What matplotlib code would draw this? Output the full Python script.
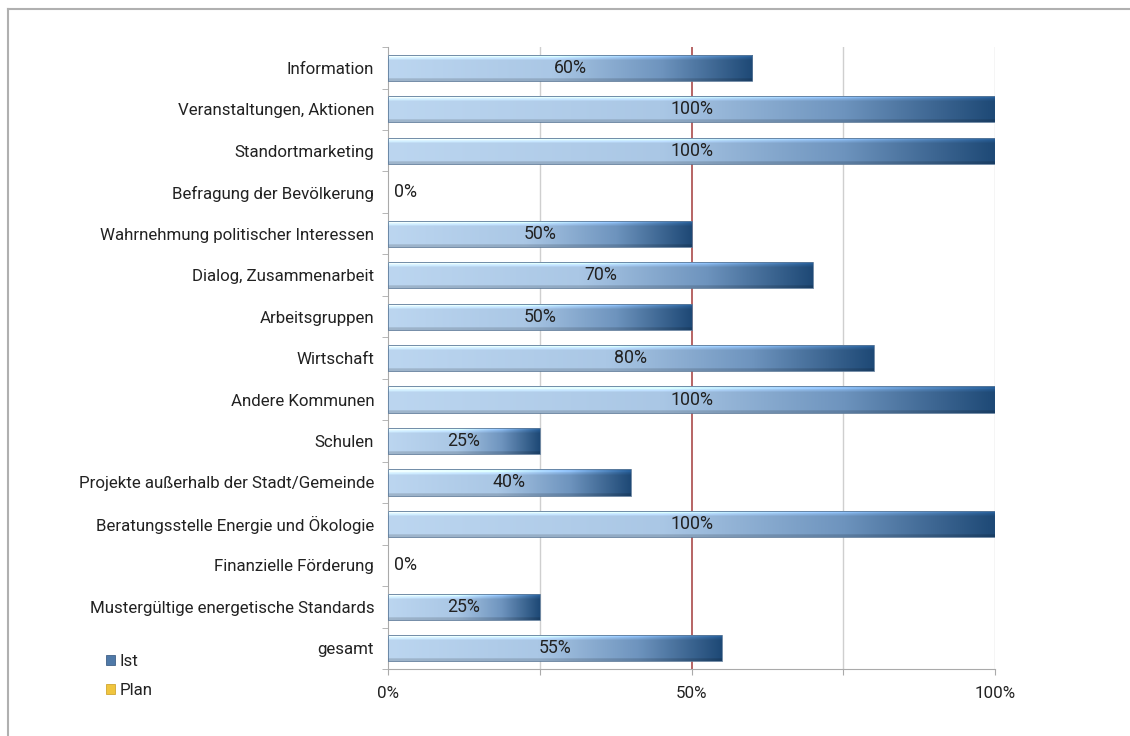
import matplotlib.pyplot as plt
import numpy as np
from matplotlib.colors import LinearSegmentedColormap
from matplotlib.patches import Rectangle, Patch
from matplotlib.lines import Line2D

plt.rcParams['font.family'] = ['Roboto', 'DejaVu Sans']

categories = ['Information', 'Veranstaltungen, Aktionen', 'Standortmarketing',
              'Befragung der Bevölkerung', 'Wahrnehmung politischer Interessen',
              'Dialog, Zusammenarbeit', 'Arbeitsgruppen', 'Wirtschaft',
              'Andere Kommunen', 'Schulen', 'Projekte außerhalb der Stadt/Gemeinde',
              'Beratungsstelle Energie und Ökologie', 'Finanzielle Förderung',
              'Mustergültige energetische Standards', 'gesamt']
ist = [60, 100, 100, 0, 50, 70, 50, 80, 100, 25, 40, 100, 0, 25, 55]
xticks = [0, 25, 50, 75, 100]
xticklabels = ['0%', '', '50%', '', '100%']

fig = plt.figure(figsize=(11.3, 7.36), dpi=100)
ax = fig.add_axes([0.3434, 0.091, 0.5371, 0.845])

# horizontal colour ramp of each bar, light on the left, navy at the end
ramp = LinearSegmentedColormap.from_list('ramp', [
    (0.0, '#bcd6f0'), (0.45, '#aac7e5'), (0.75, '#6e94be'), (1.0, '#1e4976')])

n = len(categories)
ypos = np.arange(n)
bar_h = 0.63
text_col = '#222222'
fs = 12.2

# vertical shading: bright rim at the top, slightly darker at the bottom
rows = 40
vy = np.linspace(0, 1, rows)
shade = np.ones(rows)
shade[vy < 0.12] = 1.3
shade[(vy >= 0.12) & (vy < 0.2)] = 1.12
shade[vy > 0.9] = 0.85
xs = np.linspace(0, 1, 256)
base = ramp(xs)[:, :3]

for y, v in zip(ypos, ist):
    if v > 0:
        img = np.clip(base[None, :, :] * shade[:, None, None], 0, 1)
        im = ax.imshow(img, extent=(0, v, y + bar_h / 2, y - bar_h / 2),
                       aspect='auto', interpolation='bilinear', zorder=3)
        rect = Rectangle((0, y - bar_h / 2), v, bar_h, facecolor='none',
                         edgecolor='#5d7a99', linewidth=0.6, zorder=4)
        ax.add_patch(rect)
        im.set_clip_path(rect)
        ax.text(v / 2, y, f'{v}%', ha='center', va='center', fontsize=fs + 0.6,
                color=text_col, zorder=5)
    else:
        ax.text(1, y, f'{v}%', ha='left', va='center', fontsize=fs + 0.6,
                color=text_col, zorder=5)

# grid lines, the 50% line in red
for gx in [25, 75, 100]:
    ax.axvline(gx, color='#cfcfcf', linewidth=1.0, zorder=1)
ax.axvline(50, color='#a33a3a', linewidth=1.1, zorder=1)

ax.set_xlim(0, 100)
ax.set_ylim(n - 0.5, -0.5)
ax.set_xticks(xticks)
ax.set_xticklabels(xticklabels, fontsize=fs, color=text_col)
ax.tick_params(axis='x', length=4, color='#aaaaaa', pad=8)

ax.set_yticks(ypos)
ax.set_yticklabels(categories, fontsize=fs, color=text_col)
ax.set_yticks(np.arange(-0.5, n, 1), minor=True)
ax.tick_params(axis='y', which='major', length=0, pad=10)
ax.tick_params(axis='y', which='minor', length=4, color='#aaaaaa')

for s in ['top', 'right']:
    ax.spines[s].set_visible(False)
for s in ['left', 'bottom']:
    ax.spines[s].set_color('#aaaaaa')

handles = [Patch(facecolor='#4f79a8', edgecolor='#2d4f78', linewidth=0.5),
           Patch(facecolor='#f0c53e', edgecolor='#c99a1a', linewidth=0.5)]
leg = fig.legend(handles, ['Ist', 'Plan'], loc='upper left',
                 bbox_to_anchor=(0.083, 0.128), frameon=False, fontsize=fs,
                 handlelength=0.55, handleheight=0.55, handletextpad=0.25,
                 labelspacing=0.85, labelcolor=text_col, borderpad=0.2)

# outer frame
fig.add_artist(Line2D([0.007, 1.0], [0.988, 0.988], color='#b0b0b0', linewidth=1.5))
fig.add_artist(Line2D([0.007, 0.007], [0.0, 0.988], color='#b0b0b0', linewidth=1.5))

fig.savefig('out.png', dpi=100)
